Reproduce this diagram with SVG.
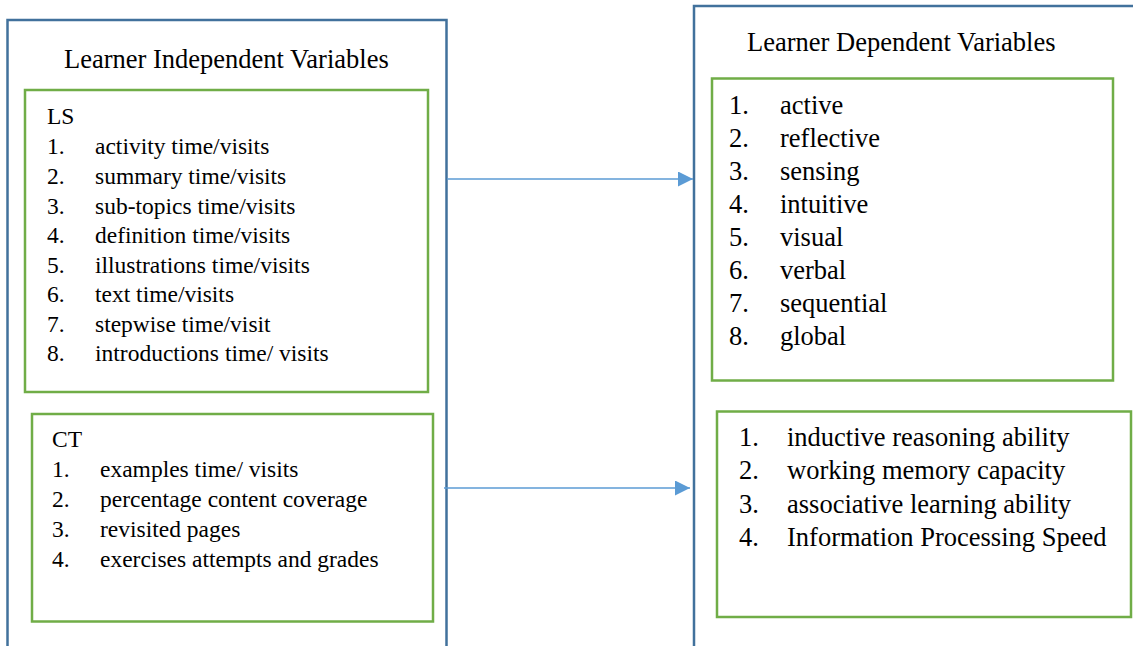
<svg xmlns="http://www.w3.org/2000/svg" width="1133" height="646" viewBox="0 0 1133 646" font-family="'Liberation Serif', 'Times New Roman', serif">
  <style>
    .outer { fill: none; stroke: #41719C; stroke-width: 2.5; }
    .inner { fill: #ffffff; stroke: #70AD47; stroke-width: 2.5; }
    text { font-family: "Liberation Serif", "Times New Roman", serif; fill: #000000; }
    .title { font-size: 26.5px; }
    .sm { font-size: 23.5px; }
    .lg { font-size: 26.5px; }
    .link { stroke: #5B9BD5; stroke-width: 1.5; fill: none; }
  </style>
  <defs>
    <marker id="head" markerUnits="userSpaceOnUse" markerWidth="16" markerHeight="16" refX="15" refY="7.5" orient="auto">
      <path d="M0,0 L15,7.5 L0,15 Z" fill="#5B9BD5"/>
    </marker>
  </defs>
  <rect width="1133" height="646" fill="#ffffff"/>

  <!-- independent variables column -->
  <g id="independent">
    <rect class="outer" x="7.5" y="20" width="439" height="640"/>
    <text class="title" x="64" y="68">Learner Independent Variables</text>
  </g>

  <g id="ls-box">
    <rect class="inner" x="25" y="90" width="403" height="302"/>
    <text class="sm" x="47" y="124">LS</text>
    <text class="sm" x="47" y="154">1.</text><text class="sm" x="95" y="154">activity time/visits</text>
    <text class="sm" x="47" y="184">2.</text><text class="sm" x="95" y="184">summary time/visits</text>
    <text class="sm" x="47" y="214">3.</text><text class="sm" x="95" y="214">sub-topics time/visits</text>
    <text class="sm" x="47" y="243">4.</text><text class="sm" x="95" y="243">definition time/visits</text>
    <text class="sm" x="47" y="273">5.</text><text class="sm" x="95" y="273">illustrations time/visits</text>
    <text class="sm" x="47" y="302">6.</text><text class="sm" x="95" y="302">text time/visits</text>
    <text class="sm" x="47" y="332">7.</text><text class="sm" x="95" y="332">stepwise time/visit</text>
    <text class="sm" x="47" y="361">8.</text><text class="sm" x="95" y="361">introductions time/ visits</text>
  </g>

  <g id="ct-box">
    <rect class="inner" x="32" y="414" width="401" height="207.5"/>
    <text class="sm" x="52" y="447">CT</text>
    <text class="sm" x="52" y="477">1.</text><text class="sm" x="100" y="477">examples time/ visits</text>
    <text class="sm" x="52" y="507">2.</text><text class="sm" x="100" y="507">percentage content coverage</text>
    <text class="sm" x="52" y="537">3.</text><text class="sm" x="100" y="537">revisited pages</text>
    <text class="sm" x="52" y="567">4.</text><text class="sm" x="100" y="567">exercises attempts and grades</text>
  </g>

  <!-- dependent variables column -->
  <g id="dependent">
    <rect class="outer" x="694" y="6" width="460" height="660"/>
    <text class="title" x="747" y="51">Learner Dependent Variables</text>
  </g>

  <g id="style-box">
    <rect class="inner" x="712" y="78.5" width="401" height="302"/>
    <text class="lg" x="729" y="114">1.</text><text class="lg" x="780" y="114">active</text>
    <text class="lg" x="729" y="147">2.</text><text class="lg" x="780" y="147">reflective</text>
    <text class="lg" x="729" y="180">3.</text><text class="lg" x="780" y="180">sensing</text>
    <text class="lg" x="729" y="213">4.</text><text class="lg" x="780" y="213">intuitive</text>
    <text class="lg" x="729" y="246">5.</text><text class="lg" x="780" y="246">visual</text>
    <text class="lg" x="729" y="279">6.</text><text class="lg" x="780" y="279">verbal</text>
    <text class="lg" x="729" y="312">7.</text><text class="lg" x="780" y="312">sequential</text>
    <text class="lg" x="729" y="345">8.</text><text class="lg" x="780" y="345">global</text>
  </g>

  <g id="trait-box">
    <rect class="inner" x="717" y="411.5" width="414" height="205.5"/>
    <text class="lg" x="739" y="446">1.</text><text class="lg" x="787" y="446">inductive reasoning ability</text>
    <text class="lg" x="739" y="479">2.</text><text class="lg" x="787" y="479">working memory capacity</text>
    <text class="lg" x="739" y="513">3.</text><text class="lg" x="787" y="513">associative learning ability</text>
    <text class="lg" x="739" y="546">4.</text><text class="lg" x="787" y="546">Information Processing Speed</text>
  </g>

  <!-- connectors -->
  <g id="connectors">
    <line class="link" x1="447" y1="179" x2="693" y2="179" marker-end="url(#head)"/>
    <line class="link" x1="444" y1="488" x2="690" y2="488" marker-end="url(#head)"/>
  </g>
</svg>
